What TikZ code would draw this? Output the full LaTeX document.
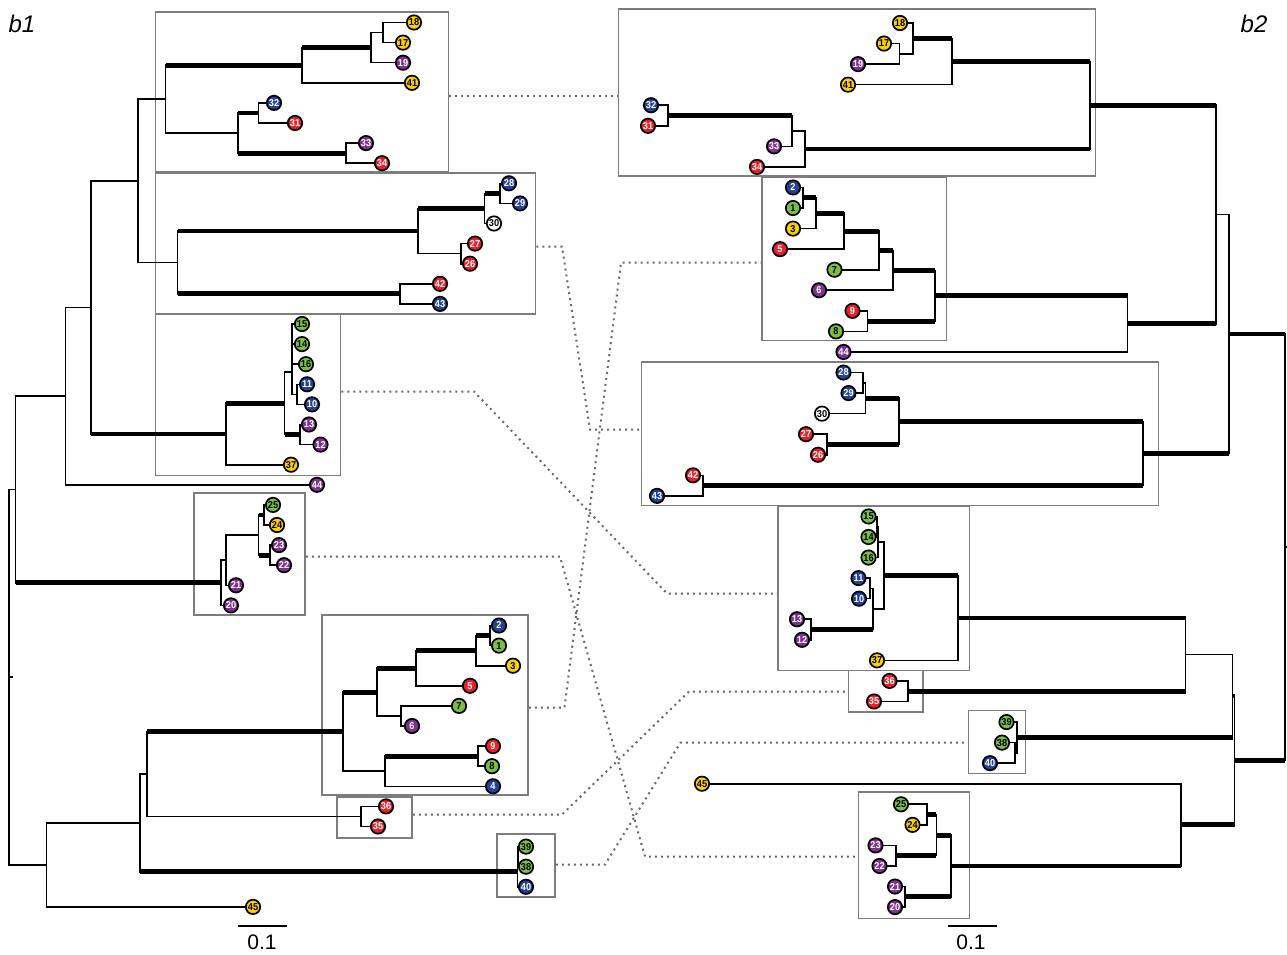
\documentclass[tikz,border=0pt]{standalone}
\usepackage{fontspec}
\setmainfont{Liberation Sans}
\newfontfamily\leaffont[FakeStretch=0.92]{Liberation Sans}
\usetikzlibrary{fit}

\definecolor{leafyel}{RGB}{252,208,0}
\definecolor{leafred}{RGB}{236,30,40}
\definecolor{leafblu}{RGB}{36,66,152}
\definecolor{leafpur}{RGB}{128,50,144}
\definecolor{leafgrn}{RGB}{124,190,66}
\definecolor{leafwht}{RGB}{255,255,255}
\colorlet{txtyel}{black}
\colorlet{txtgrn}{black}
\colorlet{txtwht}{black}
\colorlet{txtred}{white}
\colorlet{txtblu}{white}
\colorlet{txtpur}{white}
\definecolor{boxgray}{RGB}{125,125,125}
\definecolor{linkgray}{RGB}{105,105,105}

\begin{document}
\begin{tikzpicture}[x=1pt, y=-1pt,
    br/.style={line width=1.6pt, line cap=rect},
    tbr/.style={line width=4.8pt},
    leaf/.style={circle, draw=black, line width=1.7pt, inner sep=0pt, minimum size=14.4pt,
      font=\leaffont\bfseries\fontsize{10}{10}\selectfont},
    cladebox/.style={draw=boxgray, line width=1.5pt, inner sep=0pt},
    link/.style={draw=linkgray, line width=2pt, dash pattern=on 2pt off 4pt},
    tag/.style={font=\itshape\fontsize{24}{24}\selectfont},
    bar/.style={line width=1.4pt},
    barlabel/.style={font=\fontsize{21}{21}\selectfont}]
  \useasboundingbox (0,0) rectangle (1287,955);

  % Boxes b1
  \node[cladebox, fit={(155.5,12) (448.5,172)}] (bxA) {};
  \node[cladebox, fit={(155.5,173) (535.5,314)}] (bxB) {};
  \node[cladebox, fit={(155.5,314.5) (340.5,475.5)}] (bxC) {};
  \node[cladebox, fit={(194,493) (305,615)}] (bxE) {};
  \node[cladebox, fit={(322,615) (528,795)}] (bxF) {};
  \node[cladebox, fit={(337,797) (412,838)}] (bxG) {};
  \node[cladebox, fit={(497,834) (555,897)}] (bxH) {};

  % Boxes b2
  \node[cladebox, fit={(618.5,9) (1095.5,176)}] (bxRA) {};
  \node[cladebox, fit={(762,177) (946.5,340.5)}] (bxRF) {};
  \node[cladebox, fit={(641.5,362) (1158.5,505.5)}] (bxRB) {};
  \node[cladebox, fit={(778,506) (969.5,670.5)}] (bxRC) {};
  \node[cladebox, fit={(848.5,670.5) (923,712)}] (bxRG) {};
  \node[cladebox, fit={(968.5,710.5) (1025.5,773.5)}] (bxRH) {};
  \node[cladebox, fit={(858.5,792) (969.5,918.5)}] (bxRE) {};

  % Links between boxes
  \coordinate (kA) at (0,96);
  \coordinate (kB1) at (562,246.5);  \coordinate (kB2) at (590,429.5);
  \coordinate (kC1) at (474,391.5);  \coordinate (kC2) at (667,593.5);
  \coordinate (kE1) at (560,556.5);  \coordinate (kE2) at (645,856.5);
  \coordinate (kF1) at (564.5,707.5); \coordinate (kF2) at (621,262.5);
  \coordinate (kG1) at (562,814.5);  \coordinate (kG2) at (689,691.5);
  \coordinate (kH1) at (605,864.5);  \coordinate (kH2) at (680.5,742.5);
  \draw[link] (bxA.east |- kA) -- (bxRA.west |- kA);
  \draw[link] (bxB.east |- kB1) -- (kB1) -- (kB2) -- (bxRB.west |- kB2);
  \draw[link] (bxC.east |- kC1) -- (kC1) -- (kC2) -- (bxRC.west |- kC2);
  \draw[link] (bxE.east |- kE1) -- (kE1) -- (kE2) -- (bxRE.west |- kE2);
  \draw[link] (bxF.east |- kF1) -- (kF1) -- (kF2) -- (bxRF.west |- kF2);
  \draw[link] (bxG.east |- kG1) -- (kG1) -- (kG2) -- (bxRG.west |- kG2);
  \draw[link] (bxH.east |- kH1) -- (kH1) -- (kH2) -- (bxRH.west |- kH2);

  % Leaves b1
  \foreach \id/\x/\y/\k in {18/414/22.5/yel, 17/403/42.6/yel, 19/403/62.7/pur, 41/412/82.8/yel,
      32/274/102.9/blu, 31/295/123/red, 33/366/143.1/pur, 34/382/163.2/red,
      28/509/183.3/blu, 29/520/203.4/blu, 30/494/223.5/wht, 27/475/243.6/red, 26/470/263.7/red,
      42/440/283.8/red, 43/440/303.9/blu, 15/302/324/grn, 14/302/344.1/grn, 16/306/364.2/grn,
      11/307/384.3/blu, 10/312/404.4/blu, 13/309/424.5/pur, 12/320.5/444.6/pur, 37/291/464.7/yel,
      44/317/484.8/pur, 25/273/504.9/grn, 24/277/525/yel, 23/279/545.1/pur, 22/284/565.2/pur,
      21/236/585.3/pur, 20/231/605.4/pur, 2/499/625.5/blu, 1/499/645.6/grn, 3/513/665.7/yel,
      5/470/685.8/red, 7/459/705.9/grn, 6/412/726/pur, 9/493/746.1/red, 8/492/766.2/grn,
      4/493/786.3/blu, 36/386/806.4/red, 35/378/826.5/red, 39/526/846.6/grn, 38/526/866.7/grn,
      40/526/886.8/blu, 45/253/906.9/yel}
    \coordinate (l\id) at (\x,\y);

  % Inner nodes b1
  \foreach \n/\x/\y in {la1/383/32.55, la2/371/47.6, la3/302/65.2, la4/258.6/112.95, la5/346/153.15,
      la6/238/133.05, la7/165.5/99.1, lb1/500/193.35, lb2/484.5/208.4, lb3/461/253.65,
      lb4/418/231, lb5/400/293.85, lb6/177.6/262.4, lab/138/180.75,
      lc1/292/334.05, lc2/292/349.1, lc3/296.7/394.35, lc4/291.7/371.7, lc5/300/434.55,
      lc6/284.5/403.1, lc7/226/433.9, lac/91/307.3, ld/65.5/396.05,
      le1/264/514.95, le2/270/555.15, le3/258.6/535.05, le4/226/560.2, le5/220.7/582.8,
      lup/15.5/489.4, lf1/490/635.55, lf2/476/650.6, lf3/416/668.2, lf4/401/715.95,
      lf5/377/692.1, lf6/478/756.15, lf7/385/771.2, lf8/343/731.65, lg1/361/816.45,
      lg2/147/774.05, lh1/518/856.65, lh2/517.5/871.7, li1/140/822.9, li2/46.6/864.9,
      lroot/9/677.15}
    \coordinate (\n) at (\x,\y);
  \coordinate (lstub) at (12,677.15);

  % Leaves b2
  \foreach \id/\x/\y/\k in {18/900/23/yel, 17/884/43.56/yel, 19/858/64.12/pur, 41/848/84.68/yel,
      32/651/105.24/blu, 31/648/125.8/red, 33/774/146.36/pur, 34/757/166.92/red,
      2/793/187.48/blu, 1/793/208.04/grn, 3/793/228.6/yel, 5/780/249.16/red, 7/834.5/269.72/grn,
      6/819/290.28/pur, 9/852.5/310.84/red, 8/836/331.4/grn, 44/843.5/351.96/pur,
      28/843.5/372.52/blu, 29/848.5/393.08/blu, 30/822/413.64/wht, 27/806/434.2/red,
      26/818/454.76/red, 42/693/475.32/red, 43/657/495.88/blu, 15/868.5/516.44/grn,
      14/868.5/537/grn, 16/868.5/557.56/grn, 11/858.5/578.12/blu, 10/859/598.68/blu,
      13/797/619.24/pur, 12/802/639.8/pur, 37/877/660.36/yel, 36/889.5/680.92/red,
      35/874/701.48/red, 39/1006.5/722.04/grn, 38/1002/742.6/grn, 40/990/763.16/blu,
      45/702/783.72/yel, 25/901/804.28/grn, 24/912.5/824.84/yel, 23/875.5/845.4/pur,
      22/879.5/865.96/pur, 21/895/886.52/pur, 20/895/907.08/pur}
    \coordinate (r\id) at (\x,\y);

  % Inner nodes b2
  \foreach \n/\x/\y in {ra1/899.6/53.84, ra2/913/38.42, ra3/952/61.55, ra4/668/115.52,
      ra5/791.7/130.94, ra6/805/148.93, ra7/1090/105.24, rf1/803/197.76, rf2/816/213.18,
      rf3/844/231.17, rf4/879/250.45, rf5/893/270.36, rf6/867.5/321.12, rf7/935/295.74,
      rf8/1127.6/323.85, raf/1216/214.55, rb1/863/382.8, rb2/865.4/398.22, rb3/827/444.48,
      rb4/899/421.35, rb5/703/485.6, rb6/1143/453.48, rab/1229/334,
      rc1/877/526.72, rc2/878/542.14, rc3/870/588.4, rc4/811/629.52, rc5/873/608.96,
      rc6/884/575.55, rc7/958/617.96, rg1/908/691.2, rcg/1185.5/654.58,
      rh1/1015/752.88, rh2/1016.7/737.46, rch/1232.5/696.02,
      re1/926.8/814.56, re2/896/855.68, re3/936.4/835.12, re4/904.8/896.8,
      re5/950.9/865.96, re6/1181/824.84, rlo/1234.5/760.43, rroot/1285/547.2}
    \coordinate (\n) at (\x,\y);
  \coordinate (rstub) at (1287,547.2);

  % Vertical bars
  \foreach \p/\a/\b in {la1/l18/l17, la2/la1/l19, la3/la2/l41, la4/l32/l31, la5/l33/l34,
      la6/la4/la5, la7/la3/la6, lb1/l28/l29, lb2/lb1/l30, lb3/l27/l26, lb4/lb2/lb3,
      lb5/l42/l43, lb6/lb4/lb5, lab/la7/lb6, lc1/l15/l14, lc2/lc1/l16, lc3/l11/l10,
      lc4/lc2/lc3, lc5/l13/l12, lc6/lc4/lc5, lc7/lc6/l37, lac/lab/lc7, ld/lac/l44,
      le1/l25/l24, le2/l23/l22, le3/le1/le2, le4/le3/l21, le5/le4/l20, lup/ld/le5,
      lf1/l2/l1, lf2/lf1/l3, lf3/lf2/l5, lf4/l7/l6, lf5/lf3/lf4, lf6/l9/l8, lf7/lf6/l4,
      lf8/lf5/lf7, lg1/l36/l35, lg2/lf8/lg1, lh1/l39/l38, lh2/lh1/l40, li1/lg2/lh2,
      li2/li1/l45, lroot/lup/li2,
      ra1/r17/r19, ra2/r18/ra1, ra3/ra2/r41, ra4/r32/r31, ra5/ra4/r33, ra6/ra5/r34,
      ra7/ra3/ra6, rf1/r2/r1, rf2/rf1/r3, rf3/rf2/r5, rf4/rf3/r7, rf5/rf4/r6, rf6/r9/r8,
      rf7/rf5/rf6, rf8/rf7/r44, raf/ra7/rf8, rb1/r28/r29, rb2/rb1/r30, rb3/r27/r26,
      rb4/rb2/rb3, rb5/r42/r43, rb6/rb4/rb5, rab/raf/rb6, rc1/r15/r14, rc2/rc1/r16,
      rc3/r11/r10, rc4/r13/r12, rc5/rc3/rc4, rc6/rc2/rc5, rc7/rc6/r37, rg1/r36/r35,
      rcg/rc7/rg1, rh1/r38/r40, rh2/r39/rh1, rch/rcg/rh2, re1/r25/r24, re2/r23/r22,
      re3/re1/re2, re4/r21/r20, re5/re3/re4, re6/r45/re5, rlo/rch/re6, rroot/rab/rlo}
    \draw[br] (\p |- \a) -- (\p |- \b);

  % Thin branches
  \foreach \p/\c in {la1/l18, la1/l17, la2/la1, la2/l19, la3/l41, la4/l32, la4/l31, la5/l33,
      la5/l34, la7/la6, lab/la7, lb1/l28, lb1/l29, lb2/l30, lb3/l27, lb3/l26, lb4/lb3,
      lb5/l42, lb5/l43, lab/lb6, lac/lab, lc1/l15, lc1/l14, lc2/lc1, lc2/l16, lc3/l11,
      lc3/l10, lc4/lc2, lc4/lc3, lc5/l13, lc5/l12, lc6/lc4, lc7/l37, ld/lac, ld/l44, lup/ld,
      le1/l25, le1/l24, le2/l23, le2/l22, le4/le3, le4/l21, le5/le4, le5/l20, lroot/lup,
      lroot/li2, li2/li1, li2/l45, li1/lg2, lg2/lg1, lg1/l36, lg1/l35, lf1/l2, lf1/l1,
      lf2/l3, lf3/l5, lf4/l7, lf4/l6, lf5/lf4, lf6/l9, lf6/l8, lf7/l4, lf8/lf7,
      lh1/l39, lh1/l38, lh2/l40, lh2/lh1,
      ra1/r17, ra1/r19, ra2/r18, ra2/ra1, ra3/r41, ra4/r32, ra4/r31, ra5/r33, ra6/r34,
      ra6/ra5, rf1/r2, rf1/r1, rf2/r3, rf3/r5, rf4/r7, rf5/r6, rf6/r9, rf6/r8, rf8/r44,
      rab/raf, rb1/r28, rb1/r29, rb2/rb1, rb2/r30, rb3/r27, rb3/r26, rb5/r42, rb5/r43,
      rc1/r15, rc1/r14, rc2/rc1, rc2/r16, rc3/r11, rc3/r10, rc4/r13, rc4/r12, rc5/rc3,
      rc6/rc2, rc6/rc5, rc7/r37, rg1/r36, rg1/r35, rch/rcg, rh1/r38, rh1/r40, rh2/r39,
      rh2/rh1, re1/r25, re1/r24, re2/r23, re2/r22, re4/r21, re4/r20, re6/r45}
    \draw[br] (\p |- \c) -- (\c);

  % Thick branches
  \foreach \p/\c in {la3/la2, la7/la3, la6/la4, la6/la5, lb2/lb1, lb4/lb2, lb6/lb4, lb6/lb5,
      lac/lc7, lup/le5, lc7/lc6, lc6/lc5, le3/le1, le3/le2, li1/lh2, lg2/lf8, lf8/lf5,
      lf7/lf6, lf5/lf3, lf3/lf2, lf2/lf1,
      ra3/ra2, ra7/ra3, ra7/ra6, ra5/ra4, raf/ra7, rf2/rf1, rf3/rf2, rf4/rf3, rf5/rf4,
      rf7/rf5, rf7/rf6, rf8/rf7, raf/rf8, rb4/rb2, rb4/rb3, rb6/rb4, rb6/rb5, rab/rb6,
      rroot/rab, rc5/rc4, rc7/rc6, rcg/rc7, rcg/rg1, rch/rh2, rlo/rch, rlo/re6, re6/re5,
      re3/re1, re3/re2, re5/re3, re5/re4, rroot/rlo}
    \draw[tbr] (\p |- \c) -- (\c);

  % Root stubs
  \draw[br] (lroot) -- (lstub);
  \draw[br] (rroot) -- (rstub);

  % Leaf discs b1
  \foreach \id/\k in {18/yel, 17/yel, 19/pur, 41/yel, 32/blu, 31/red, 33/pur, 34/red,
      28/blu, 29/blu, 30/wht, 27/red, 26/red, 42/red, 43/blu, 15/grn, 14/grn, 16/grn,
      11/blu, 10/blu, 13/pur, 12/pur, 37/yel, 44/pur, 25/grn, 24/yel, 23/pur, 22/pur,
      21/pur, 20/pur, 2/blu, 1/grn, 3/yel, 5/red, 7/grn, 6/pur, 9/red, 8/grn, 4/blu,
      36/red, 35/red, 39/grn, 38/grn, 40/blu, 45/yel}
    \node[leaf, fill=leaf\k, text=txt\k] (dl\id) at (l\id) {\id};

  % Leaf discs b2
  \foreach \id/\k in {18/yel, 17/yel, 19/pur, 41/yel, 32/blu, 31/red, 33/pur, 34/red,
      2/blu, 1/grn, 3/yel, 5/red, 7/grn, 6/pur, 9/red, 8/grn, 44/pur,
      28/blu, 29/blu, 30/wht, 27/red, 26/red, 42/red, 43/blu, 15/grn, 14/grn, 16/grn,
      11/blu, 10/blu, 13/pur, 12/pur, 37/yel, 36/red, 35/red, 39/grn, 38/grn, 40/blu,
      45/yel, 25/grn, 24/yel, 23/pur, 22/pur, 21/pur, 20/pur}
    \node[leaf, fill=leaf\k, text=txt\k] (dr\id) at (r\id) {\id};

  % Labels and scale bars
  \node[tag] (tb1) at (22,24) {b1};
  \node[tag] (tb2) at (1254,24) {b2};
  \coordinate (sl1) at (238,926); \coordinate (sl2) at (287,926);
  \coordinate (sr1) at (948,926); \coordinate (sr2) at (997,926);
  \draw[bar] (sl1) -- (sl2);
  \draw[bar] (sr1) -- (sr2);
  \node[barlabel] (sll) at (262,942) {0.1};
  \node[barlabel] (srl) at (971,942) {0.1};
\end{tikzpicture}
\end{document}
